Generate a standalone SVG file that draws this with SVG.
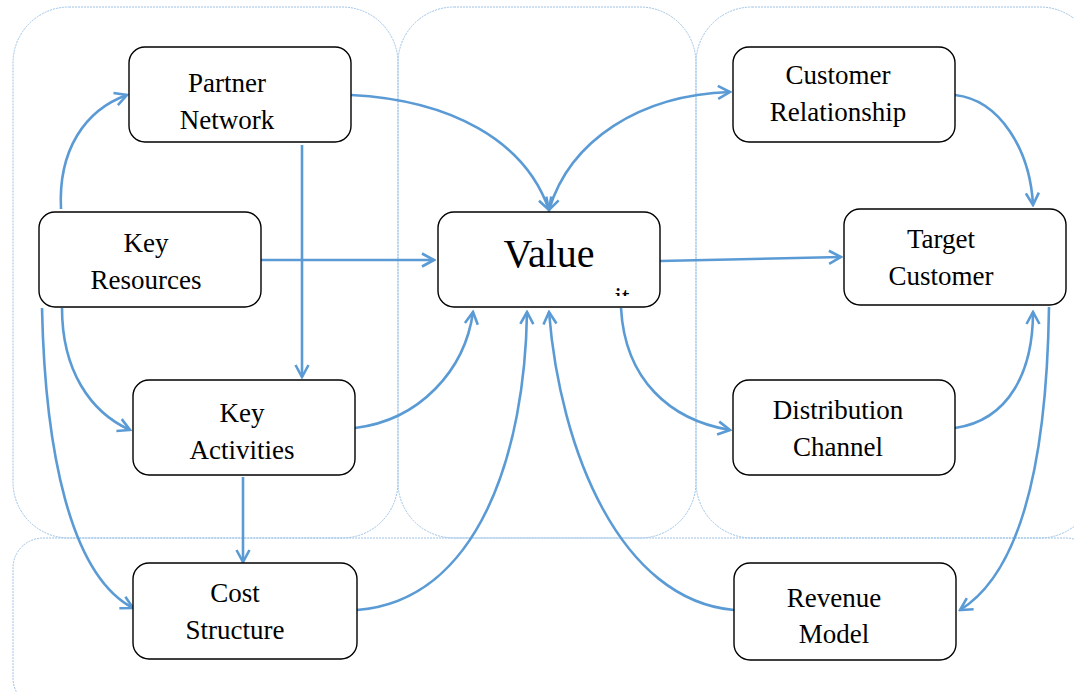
<svg xmlns="http://www.w3.org/2000/svg" width="1074" height="692" viewBox="0 0 1074 692">
  <style>
    .panel { fill: none; stroke: #9dc3e6; stroke-width: 1; stroke-dasharray: 2 1; }
    .box { fill: #ffffff; stroke: #000000; stroke-width: 1.4; }
    text { font-family: "Liberation Serif", "Times New Roman", Tinos, "DejaVu Serif", "Noto Serif", serif; font-size: 27px; fill: #000000; text-anchor: middle; }
    text.big { font-size: 40px; }
    .link { fill: none; stroke: #5b9bd5; stroke-width: 2.6; }
  </style>
  <defs>
    <marker id="arrow" markerUnits="userSpaceOnUse" markerWidth="18" markerHeight="18" viewBox="0 0 18 18" refX="16" refY="9" orient="auto">
      <path d="M4,2.5 L16,9 L4,15.5" fill="none" stroke="#5b9bd5" stroke-width="2.6"/>
    </marker>
    <marker id="arrowStart" markerUnits="userSpaceOnUse" markerWidth="18" markerHeight="18" viewBox="0 0 18 18" refX="2" refY="9" orient="auto">
      <path d="M14,2.5 L2,9 L14,15.5" fill="none" stroke="#5b9bd5" stroke-width="2.6"/>
    </marker>
    <clipPath id="valueClip">
      <rect x="600" y="284" width="50" height="12"/>
    </clipPath>
  </defs>

  <rect width="1074" height="692" fill="#ffffff"/>

  <!-- background panels -->
  <g id="panels">
    <rect class="panel" x="13" y="7" width="385" height="531" rx="56" ry="56"/>
    <rect class="panel" x="398" y="7" width="298" height="531" rx="56" ry="56"/>
    <rect class="panel" x="696" y="7" width="400" height="531" rx="56" ry="56"/>
    <rect class="panel" x="13" y="538" width="1083" height="170" rx="30" ry="30"/>
  </g>

  <!-- connectors -->
  <g id="connectors">
    <path class="link" marker-end="url(#arrow)" d="M61,209 C58,150 85,110 127,95"/>
    <path class="link" marker-end="url(#arrow)" d="M62,308 C62,370 90,412 130,430"/>
    <path class="link" marker-end="url(#arrow)" d="M42,308 C45,450 70,575 133,608"/>
    <path class="link" marker-end="url(#arrow)" d="M261,260 L434,260"/>
    <path class="link" marker-end="url(#arrow)" d="M302,145 L302,377"/>
    <path class="link" marker-end="url(#arrow)" d="M351,95 C450,100 525,140 549,210"/>
    <path class="link" marker-start="url(#arrowStart)" marker-end="url(#arrow)" d="M549,210 C570,140 640,95 730,92"/>
    <path class="link" marker-end="url(#arrow)" d="M660,261 L841,257"/>
    <path class="link" marker-end="url(#arrow)" d="M955,95 C1000,100 1030,150 1033,205"/>
    <path class="link" marker-end="url(#arrow)" d="M955,428 C1010,420 1033,370 1033,312"/>
    <path class="link" marker-end="url(#arrow)" d="M621,308 C625,380 670,420 730,430"/>
    <path class="link" marker-end="url(#arrow)" d="M1049,307 C1047,450 1025,570 960,610"/>
    <path class="link" marker-end="url(#arrow)" d="M734,610 C620,600 560,450 549,312"/>
    <path class="link" marker-end="url(#arrow)" d="M357,610 C480,600 525,450 527,312"/>
    <path class="link" marker-end="url(#arrow)" d="M355,428 C420,420 465,370 473,312"/>
    <path class="link" marker-end="url(#arrow)" d="M243,477 L243,562"/>
  </g>

  <!-- nodes -->
  <g id="partner-network">
    <rect class="box" x="129" y="47" width="222" height="95" rx="16" ry="16"/>
    <text x="227" y="92">Partner</text>
    <text x="227" y="129">Network</text>
  </g>
  <g id="key-resources">
    <rect class="box" x="39" y="212" width="222" height="95" rx="16" ry="16"/>
    <text x="146" y="252">Key</text>
    <text x="146" y="289">Resources</text>
  </g>
  <g id="value">
    <rect class="box" x="438" y="212" width="222" height="95" rx="16" ry="16"/>
    <text class="big" x="549" y="267">Value</text>
    <text x="622" y="306" clip-path="url(#valueClip)">it</text>
  </g>
  <g id="customer-relationship">
    <rect class="box" x="733" y="47" width="222" height="95" rx="16" ry="16"/>
    <text x="838" y="84">Customer</text>
    <text x="838" y="121">Relationship</text>
  </g>
  <g id="target-customer">
    <rect class="box" x="844" y="209" width="222" height="96" rx="16" ry="16"/>
    <text x="941" y="248">Target</text>
    <text x="941" y="285">Customer</text>
  </g>
  <g id="key-activities">
    <rect class="box" x="133" y="380" width="222" height="95" rx="16" ry="16"/>
    <text x="242" y="422">Key</text>
    <text x="242" y="459">Activities</text>
  </g>
  <g id="distribution-channel">
    <rect class="box" x="733" y="380" width="222" height="95" rx="16" ry="16"/>
    <text x="838" y="419">Distribution</text>
    <text x="838" y="456">Channel</text>
  </g>
  <g id="cost-structure">
    <rect class="box" x="133" y="563" width="224" height="96" rx="16" ry="16"/>
    <text x="235" y="602">Cost</text>
    <text x="235" y="639">Structure</text>
  </g>
  <g id="revenue-model">
    <rect class="box" x="734" y="563" width="222" height="97" rx="16" ry="16"/>
    <text x="834" y="607">Revenue</text>
    <text x="834" y="643">Model</text>
  </g>
</svg>
